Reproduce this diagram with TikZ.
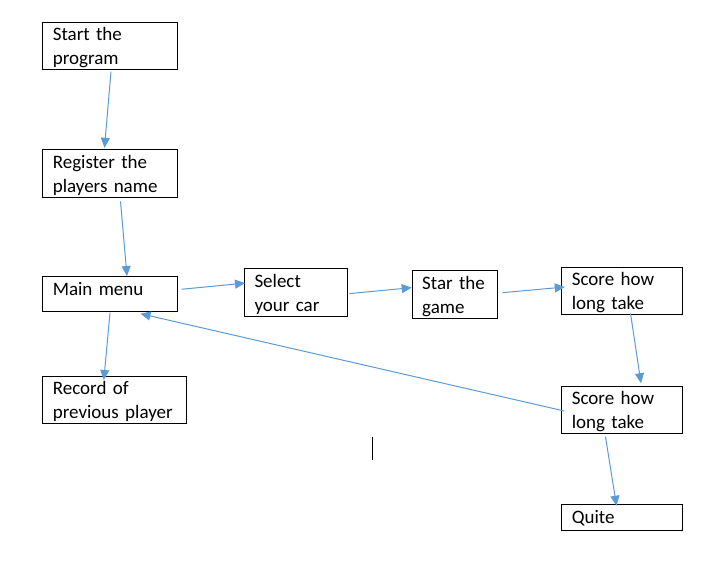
\documentclass[tikz,border=0pt]{standalone}
\usepackage{fontspec}
\setmainfont{Carlito}
\usetikzlibrary{arrows.meta}

\definecolor{flowblue}{HTML}{5B9BD5}

\begin{document}
\begin{tikzpicture}[x=1pt,y=-1pt,
	stage/.style={draw, line width=1pt, anchor=north west, inner xsep=10pt,
		inner ysep=0pt, align=left, text height=18.7pt,
		font=\fontsize{19}{24}\selectfont},
	flow/.style={draw=flowblue, line width=1pt,
		-{Triangle[length=10pt,width=9pt]}, fill=none}]

	% page
	\useasboundingbox (0,0) rectangle (725,565);

	% boxes

	\node[stage, text width=114.4pt, text depth=28.3pt] (start) at (42.3,21.7) {Start the\\program};
	\node[stage, text width=114.4pt, text depth=29.3pt] (register) at (42.3,149.3) {Register the\\players name};
	\node[stage, text width=114.4pt, text depth=16pt] (main) at (42.3,276) {Main menu};
	\node[stage, text width=123.4pt, text depth=29pt] (record) at (42.3,375.7) {Record of\\previous player};
	\node[stage, text width=83.3pt, text depth=29pt] (select) at (244,268.3) {Select\\your car};
	\node[stage, text width=65.6pt, text depth=29.6pt] (game) at (411.7,270) {Star the\\game};
	\node[stage, text width=100.4pt, text depth=28.9pt] (score1) at (561.3,266.7) {Score how\\long take};
	\node[stage, text width=100.4pt, text depth=28.9pt] (score2) at (561.3,385.7) {Score how\\long take};
	\node[stage, text width=100.4pt, text depth=7.3pt] (quite) at (561.3,504.3) {Quite};

	% arrows

	\draw[flow] ([xshift=1pt,yshift=-2pt]start.south) -- ([xshift=-5.5pt,yshift=1.5pt]register.north);
	\draw[flow] ([xshift=10.5pt,yshift=-3pt]register.south) -- ([xshift=17pt]main.north);
	\draw[flow] ([xshift=4pt,yshift=4.6pt]main.east) -- ([xshift=1pt,yshift=9.5pt]select.west);
	\draw[flow] ([xshift=1pt,yshift=-1pt]select.east) -- ([yshift=7pt]game.west);
	\draw[flow] ([xshift=4.4pt,yshift=2pt]game.east) -- ([xshift=3.5pt,yshift=4pt]score1.west);
	\draw[flow] ([xshift=8.5pt,yshift=2pt]score1.south) -- ([xshift=19pt,yshift=2.5pt]score2.north);
	\draw[flow] ([xshift=3pt,yshift=-1pt]score2.west) -- ([xshift=30.5pt,yshift=-2pt]main.south);
	\draw[flow] ([yshift=-1pt]main.south) -- ([xshift=-10.7pt,yshift=-4.3pt]record.north);
	\draw[flow] ([xshift=-16.5pt,yshift=-2.4pt]score2.south) -- ([xshift=-5.5pt,yshift=-1.4pt]quite.north);

	% cursor
	\draw[line width=1pt] (372.3,436.7) -- (372.3,460);

\end{tikzpicture}
\end{document}
